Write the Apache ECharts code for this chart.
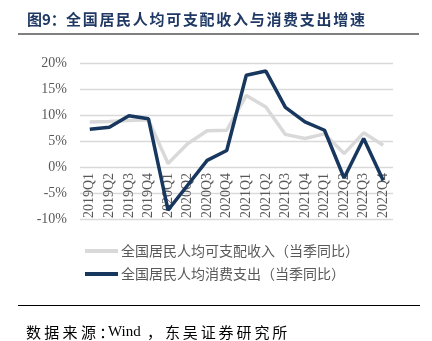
<!DOCTYPE html>
<html><head><meta charset="utf-8">
<script src="https://cdn.jsdelivr.net/npm/echarts@6/dist/echarts.min.js"></script>
<style>html,body{margin:0;padding:0;background:#fff}#c{width:432px;height:341px}</style>
</head><body><div id="c"></div>
<script>
const categories = ['2019Q1','2019Q2','2019Q3','2019Q4','2020Q1','2020Q2','2020Q3','2020Q4','2021Q1','2021Q2','2021Q3','2021Q4','2022Q1','2022Q2','2022Q3','2022Q4'];
const incomeName = '全国居民人均可支配收入（当季同比）';
const spendName = '全国居民人均消费支出（当季同比）';
const income = [8.7, 8.8, 9.0, 9.1, 0.7, 4.5, 7.0, 7.1, 13.8, 11.6, 6.3, 5.5, 6.4, 2.6, 6.6, 4.2];
const spend = [7.3, 7.7, 9.9, 9.3, -8.3, -3.5, 1.3, 3.2, 17.7, 18.5, 11.5, 8.7, 7.1, -2.1, 5.5, -2.6];
const yTicks = {min: -10, max: 20, interval: 5};

const chart = echarts.init(document.getElementById('c'));
const serif = 'Liberation Serif';
const cjk = 'Noto Sans CJK SC';

// spaced text helper (letter-spaced CJK as in the source PDF)
function spaced(str, x0, y, pitch, style) {
  return Array.from(str).map((ch, i) => ({
    type: 'text', x: x0 + i * pitch, y: y,
    style: Object.assign({text: ch, textVerticalAlign: 'middle', textAlign: 'left'}, style)
  }));
}
const titleStyle = {fill: '#1f3864', fontFamily: cjk, fontWeight: 'bold', fontSize: 15};
const srcStyle = {fill: '#000', fontFamily: cjk, fontSize: 15};
const graphics = [
  {type: 'text', x: 27, y: 19.5, style: Object.assign({text: '图9：', textVerticalAlign: 'middle'}, titleStyle)},
  ...spaced('全国居民人均可支配收入与消费支出增速', 66, 19.5, 16.7, titleStyle),
  {type: 'line', shape: {x1: 18, y1: 34, x2: 419, y2: 34}, style: {stroke: '#000', lineWidth: 1.2}},
  {type: 'line', shape: {x1: 18, y1: 305.5, x2: 420, y2: 305.5}, style: {stroke: '#000', lineWidth: 1.2}},
  ...spaced('数据来源：', 26, 332, 18.3, srcStyle),
  {type: 'text', x: 108, y: 332, style: {text: 'Wind', textVerticalAlign: 'middle', fill: '#000', fontFamily: serif, fontSize: 15}},
  ...spaced('，东吴证券研究所', 147, 332, 17.9, srcStyle)
];

chart.setOption({
  animation: false,
  grid: {left: 80, right: 39, top: 63.3, bottom: 122, containLabel: false},
  graphic: graphics,
  legend: {
    orient: 'vertical', left: 80, top: 239, itemGap: 9, itemWidth: 33, itemHeight: 4,
    icon: 'rect',
    textStyle: {fontFamily: cjk, fontSize: 14, color: '#595959', padding: [0, 0, 0, -2]},
    data: [incomeName, spendName]
  },
  xAxis: {
    type: 'category', data: categories, boundaryGap: true,
    axisLine: {show: false, onZero: false},
    axisTick: {show: false},
    axisLabel: {rotate: 90, interval: 0, margin: -46, fontFamily: serif, fontSize: 14, color: '#595959'}
  },
  yAxis: {
    type: 'value', min: yTicks.min, max: yTicks.max, interval: yTicks.interval,
    axisLine: {show: false}, axisTick: {show: false},
    axisLabel: {formatter: '{value}%', margin: 13, fontFamily: serif, fontSize: 14, color: '#595959'},
    splitLine: {lineStyle: {color: '#d9d9d9', width: 1.3}}
  },
  series: [
    {name: incomeName, type: 'line', data: income, symbol: 'none', lineStyle: {color: '#d9d9d9', width: 3.5}, itemStyle: {color: '#d9d9d9'}},
    {name: spendName, type: 'line', data: spend, symbol: 'none', lineStyle: {color: '#17375e', width: 3.5}, itemStyle: {color: '#17375e'}}
  ]
});
</script></body></html>
